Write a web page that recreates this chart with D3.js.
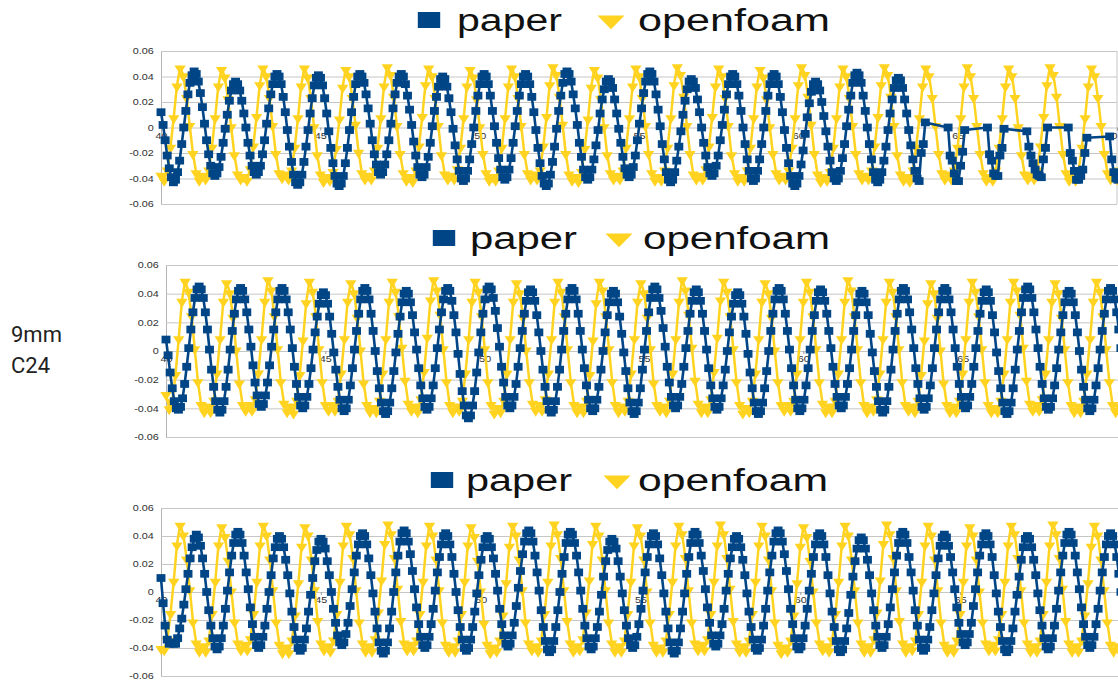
<!DOCTYPE html>
<html>
<head>
<meta charset="utf-8">
<script src="https://cdn.jsdelivr.net/npm/d3@7"></script>
<style>
  body { margin: 0; background: #ffffff; }
  svg { display: block; }
</style>
</head>
<body>
<svg id="chart" width="1118" height="681"></svg>
<script>
// Free-surface elevation at gauge C24, 9 mm case: measured series ("paper")
// against the OpenFOAM run, three records. Values are in millimetres.
// paper samples: every 0.065 s from t = 40 s (null = no point in the record).
// openfoam samples: every 0.1 s from t = 40 s.
const timeStart = 40;
const paperStep = 0.065;
const foamStep = 0.1;
const seriesNames = ["paper", "openfoam"];
const xTicks = [40, 45, 50, 55, 60, 65, 70];
const yTicks = [-0.06, -0.04, -0.02, 0, 0.02, 0.04, 0.06];
const sideLabel = ["9mm", "C24"];

const paper1 = [
  12, 2, -10, -22, -32, -39, -43,
  -41, -35, -26, -13, 0, 13, 26, 35, 41, 44,
  42, 36, 27, 16, 3, -10, -21, -30, -36, -38,
  -36, -31, -23, -12, -1, 10, 21, 29, 34, 36,
  34, 29, 21, 11, 0, -12, -22, -30, -35, -37,
  -35, -30, -21, -10, 3, 15, 26, 34, 40, 42,
  40, 34, 24, 12, -2, -15, -27, -37, -43, -45,
  -43, -37, -27, -15, -2, 11, 23, 33, 39, 41,
  39, 33, 23, 11, -3, -16, -28, -38, -44, -46,
  -44, -38, -28, -16, -2, 12, 24, 34, 40, 42,
  40, 35, 26, 15, 3, -10, -21, -29, -35, -37,
  -35, -29, -21, -10, 3, 15, 26, 35, 40, 42,
  40, 34, 25, 14, 2, -11, -22, -31, -37, -39,
  -37, -31, -23, -12, 1, 13, 24, 32, 38, 40,
  38, 32, 23, 12, -1, -14, -25, -34, -40, -42,
  -40, -34, -25, -13, 0, 13, 25, 34, 40, 42,
  40, 34, 25, 13, 1, -12, -24, -33, -39, -41,
  -39, -33, -24, -12, 1, 13, 25, 34, 40, 42,
  40, 34, 24, 12, -2, -16, -28, -38, -44, -46,
  -44, -37, -27, -15, -1, 13, 25, 35, 42, 44,
  42, 36, 26, 15, 2, -12, -23, -33, -39, -41,
  -39, -33, -25, -14, -2, 11, 22, 30, 36, 38,
  36, 31, 22, 11, -1, -12, -23, -32, -37, -39,
  -37, -31, -22, -10, 3, 15, 27, 36, 42, 44,
  42, 36, 26, 14, 1, -13, -25, -35, -41, -43,
  -41, -35, -26, -15, -3, 10, 21, 30, 36, 38,
  36, 31, 22, 12, 0, -12, -22, -31, -36, -38,
  -36, -30, -22, -10, 2, 14, 26, 34, 40, 42,
  40, 34, 25, 13, 0, -13, -25, -34, -40, -42,
  -40, -34, -25, -13, 0, 13, 25, 34, 40, 42,
  40, 34, 24, 12, -2, -16, -28, -38, -44, -46,
  -44, -38, -29, -18, -5, 8, 19, 28, 34, 36,
  34, 29, 20, 9, -3, -15, -26, -35, -40, -42,
  -40, -34, -24, -13, 1, 14, 25, 35, 41, 43,
  41, 35, 25, 13, 0, -13, -25, -35, -41, -43,
  -41, -35, -26, -15, -2, 11, 22, 31, 37, 39,
  37, 31, 22, 11, -2, -14, -25, -34, -40, -42,
  -20, -13, 4,
  null, null, null, null, null, null, null, null, null, null,
  0, -22, -26, -36, -42, -42, -30, -19, -2,
  null, null, null, null, null, null, null, null, null, null,
  0, -21, -26, -36, -38, -38, -22, -16, -1,
  null, null, null, null, null, null, null, null, null, null,
  -3, -15, -22, -28, -33, -37, -38, -39, -25, -16, 0,
  null, null, null, null, null, null, null, null, null,
  0, -20, -26, -34, -41, -41, -38, -33, -20, -8,
  null, null, null, null, null, null, null, null, null, null,
  -7, -25, -35, -40, -41
];

const foam1 = [
  -37, -41, -33, -15, 8, 33,
  47, 41, 24, 2, -20, -35, -41, -37, -40, -33, -15, 8, 33,
  46, 40, 23, 1, -21, -36, -40, -38, -41, -32, -14, 9, 34,
  47, 41, 24, 2, -20, -35, -39, -36, -40, -33, -15, 8, 33,
  47, 40, 24, 1, -21, -36, -42, -38, -41, -34, -16, 7, 32,
  46, 41, 24, 3, -19, -35, -40, -37, -40, -33, -15, 8, 33,
  48, 42, 25, 2, -20, -35, -41, -38, -42, -33, -14, 9, 34,
  47, 41, 24, 2, -21, -36, -40, -37, -40, -32, -15, 8, 33,
  46, 40, 23, 1, -20, -35, -41, -38, -41, -33, -15, 8, 33,
  47, 41, 24, 2, -20, -35, -40, -36, -40, -33, -14, 9, 34,
  48, 42, 25, 3, -20, -36, -41, -38, -42, -34, -16, 7, 32,
  46, 40, 23, 1, -21, -35, -40, -37, -40, -33, -15, 8, 33,
  47, 41, 24, 2, -20, -35, -41, -38, -41, -33, -15, 8, 34,
  48, 42, 25, 2, -20, -36, -40, -37, -40, -32, -14, 9, 33,
  47, 41, 24, 2, -21, -35, -41, -38, -41, -33, -15, 8, 33,
  46, 40, 23, 1, -20, -35, -40, -37, -40, -33, -15, 8, 34,
  48, 42, 25, 3, -20, -36, -42, -38, -41, -34, -15, 8, 33,
  47, 41, 24, 2, -20, -35, -40, -37, -40, -33, -14, 9, 34,
  48, 42, 25, 2, -21, -36, -41, -38, -42, -33, -15, 8, 33,
  47, 41, 24, 2, -20, -35, -40, -36, -40, -33, -15, 8, 33,
  48, 41, 24, 2, -20, -35, -41, -38, -41, -33, -15, 8, 33,
  47, 41, 24, 1, -21, -36, -40, -37, -40, -33, -14, 9, 34,
  48, 42, 25, 2, -20, -35, -41, -38, -41, -33, -15, 8, 33,
  47, 41, 24, 2, -20, -35, -40, -37, -40, -33, -15, 8, 33
];

const paper2 = [
  8, -3, -15, -26, -35, -40, -41,
  -39, -33, -23, -11, 2, 15, 27, 37, 43, 45,
  43, 37, 27, 15, 1, -13, -25, -35, -41, -43,
  -41, -35, -25, -13, 1, 14, 26, 36, 42, 44,
  42, 36, 27, 15, 3, -10, -22, -31, -37, -39,
  -37, -31, -22, -10, 3, 15, 27, 36, 42, 44,
  42, 36, 27, 15, 2, -11, -23, -32, -38, -40,
  -38, -32, -23, -12, 1, 13, 24, 33, 39, 41,
  39, 33, 24, 12, -1, -13, -25, -34, -40, -42,
  -40, -34, -24, -12, 1, 14, 26, 36, 42, 44,
  42, 36, 26, 14, 0, -14, -26, -36, -42, -44,
  -42, -36, -26, -14, -1, 12, 24, 34, 40, 42,
  40, 34, 25, 13, 1, -12, -24, -33, -39, -41,
  -39, -33, -24, -12, 2, 15, 27, 36, 42, 44,
  42, 35, 25, 13, -2, -16, -28, -38, -45, -47,
  -45, -38, -28, -15, -1, 13, 26, 36, 43, 45,
  43, 37, 28, 16, 3, -11, -22, -32, -38, -40,
  -38, -32, -23, -11, 2, 14, 26, 35, 41, 43,
  41, 35, 25, 13, 0, -13, -25, -35, -41, -43,
  -41, -35, -25, -13, 1, 14, 26, 36, 42, 44,
  42, 36, 26, 14, 1, -12, -24, -34, -40, -42,
  -40, -34, -25, -13, 0, 13, 25, 34, 40, 42,
  40, 34, 24, 12, -1, -14, -26, -36, -42, -44,
  -42, -36, -26, -13, 1, 14, 27, 37, 43, 45,
  43, 37, 28, 16, 3, -11, -22, -32, -38, -40,
  -38, -32, -23, -11, 2, 14, 26, 35, 41, 43,
  41, 35, 26, 14, 1, -12, -24, -33, -39, -41,
  -39, -33, -24, -13, 0, 13, 24, 33, 39, 41,
  39, 33, 24, 12, -2, -15, -26, -36, -42, -44,
  -42, -36, -26, -14, 0, 14, 26, 36, 42, 44,
  42, 36, 26, 14, 1, -12, -24, -34, -40, -42,
  -40, -34, -24, -12, 1, 14, 25, 35, 41, 43,
  41, 35, 26, 14, 2, -11, -23, -32, -38, -40,
  -38, -32, -23, -12, 1, 14, 25, 34, 40, 42,
  40, 34, 25, 12, -1, -14, -25, -35, -41, -43,
  -41, -35, -25, -13, 1, 14, 26, 36, 42, 44,
  42, 36, 27, 15, 2, -12, -23, -33, -39, -41,
  -39, -33, -24, -12, 2, 15, 27, 36, 42, 44,
  42, 36, 27, 15, 2, -11, -23, -32, -38, -40,
  -38, -32, -23, -11, 2, 14, 26, 35, 41, 43,
  41, 35, 25, 13, -1, -14, -26, -36, -42, -44,
  -42, -36, -26, -13, 1, 14, 27, 37, 43, 45,
  43, 37, 27, 15, 2, -11, -23, -33, -39, -41,
  -39, -33, -24, -12, 1, 13, 25, 34, 40, 42,
  40, 34, 25, 13, 0, -13, -25, -34, -40, -42,
  -40, -34, -24, -12, 1, 14, 26, 36, 42, 44,
  42, 36, 27, 15, 2, -11, -23, -32, -38
];

const foam2 = [
  -30, -40, -35, -16, 9, 35,
  49, 42, 25, 2, -21, -37, -42, -38, -42, -34, -15, 9, 35,
  48, 41, 24, 1, -22, -37, -41, -37, -41, -33, -15, 9, 35,
  50, 43, 25, 2, -21, -36, -42, -38, -43, -34, -16, 8, 34,
  49, 42, 25, 2, -21, -37, -41, -37, -41, -34, -15, 9, 35,
  48, 41, 24, 1, -22, -37, -42, -39, -42, -34, -15, 9, 35,
  49, 42, 25, 3, -20, -36, -41, -38, -42, -33, -14, 10, 36,
  50, 43, 26, 2, -21, -37, -42, -38, -41, -34, -15, 9, 35,
  49, 42, 25, 2, -21, -37, -43, -39, -42, -34, -15, 9, 35,
  48, 41, 24, 1, -21, -36, -41, -37, -41, -33, -15, 9, 35,
  49, 42, 25, 2, -21, -37, -42, -38, -42, -34, -16, 8, 34,
  49, 43, 25, 2, -21, -37, -42, -38, -41, -34, -15, 9, 35,
  48, 41, 24, 2, -22, -37, -41, -38, -42, -34, -15, 9, 35,
  50, 43, 26, 3, -20, -36, -42, -38, -42, -33, -14, 10, 36,
  49, 42, 25, 2, -21, -37, -43, -39, -42, -34, -15, 9, 35,
  48, 41, 24, 1, -21, -37, -41, -37, -41, -34, -15, 9, 35,
  49, 42, 25, 2, -21, -36, -42, -38, -42, -34, -15, 9, 35,
  50, 43, 25, 2, -21, -37, -42, -38, -41, -33, -15, 9, 35,
  49, 42, 25, 2, -21, -37, -41, -38, -42, -34, -16, 8, 34,
  48, 41, 24, 1, -22, -37, -42, -38, -42, -34, -15, 9, 35,
  49, 42, 25, 2, -21, -37, -42, -39, -42, -34, -15, 9, 35,
  49, 43, 26, 3, -20, -36, -41, -37, -41, -33, -15, 9, 35,
  48, 41, 24, 2, -21, -37, -42, -38, -42, -34, -15, 9, 35,
  49, 42, 25, 2, -21, -37, -42, -38, -42, -34, -15, 9, 35
];

const paper3 = [
  10, -8, -24, -34, -37, -36, -37, -37,
  -33, -26, -19, -9, 2, 13, 24, 32, 38, 41,
  39, 33, 24, 13, 0, -13, -24, -33, -39, -41,
  -39, -33, -24, -12, 1, 14, 26, 35, 41, 43,
  41, 35, 26, 14, 2, -11, -23, -32, -38, -40,
  -38, -32, -24, -12, 0, 12, 24, 32, 38, 40,
  38, 32, 23, 12, -1, -14, -25, -34, -40, -42,
  -40, -34, -26, -14, -2, 10, 22, 30, 36, 38,
  36, 31, 22, 12, 0, -12, -22, -31, -36, -38,
  -36, -30, -22, -10, 2, 14, 26, 34, 40, 42,
  40, 34, 24, 12, -1, -14, -26, -36, -42, -44,
  -42, -36, -26, -14, 0, 14, 26, 36, 42, 44,
  42, 36, 27, 15, 2, -11, -23, -32, -38, -40,
  -38, -32, -23, -12, 1, 14, 25, 34, 40, 42,
  40, 34, 25, 13, 0, -13, -25, -34, -40, -42,
  -40, -34, -25, -14, -1, 12, 23, 32, 38, 40,
  38, 32, 24, 13, 1, -12, -23, -31, -37, -39,
  -37, -31, -22, -10, 3, 15, 27, 36, 42, 44,
  42, 36, 26, 14, 1, -13, -25, -35, -41, -43,
  -41, -35, -25, -13, 0, 13, 25, 35, 41, 43,
  41, 35, 26, 14, 1, -12, -24, -33, -39, -41,
  -39, -33, -25, -14, -2, 11, 22, 30, 36, 38,
  36, 31, 22, 11, -1, -13, -24, -33, -38, -40,
  -38, -32, -23, -12, 1, 14, 25, 34, 40, 42,
  40, 34, 24, 12, -1, -14, -26, -36, -42, -44,
  -42, -36, -26, -14, -1, 13, 25, 35, 41, 43,
  41, 35, 26, 15, 2, -11, -22, -31, -37, -39,
  -37, -31, -23, -12, 1, 13, 24, 32, 38, 40,
  38, 32, 23, 12, -1, -14, -25, -34, -40, -42,
  -40, -34, -24, -12, 1, 14, 26, 36, 42, 44,
  42, 36, 27, 15, 2, -12, -23, -33, -39, -41,
  -39, -33, -24, -12, 1, 13, 25, 34, 40, 42,
  40, 34, 25, 12, -1, -14, -25, -35, -41, -43,
  -41, -35, -26, -15, -2, 11, 22, 31, 37, 39,
  37, 31, 23, 12, -1, -13, -24, -32, -38, -40,
  -38, -32, -23, -11, 2, 14, 26, 35, 41, 43,
  41, 35, 25, 14, 1, -13, -24, -34, -40, -42,
  -40, -34, -25, -13, -1, 12, 24, 33, 39, 41,
  39, 33, 25, 14, 2, -11, -22, -30, -36, -38,
  -36, -30, -22, -10, 2, 14, 26, 34, 40, 42,
  40, 34, 25, 12, -1, -14, -25, -35, -41, -43,
  -41, -35, -26, -14, -2, 11, 23, 32, 38, 40,
  38, 32, 23, 12, -1, -13, -24, -33, -39, -41,
  -39, -33, -24, -12, 1, 14, 26, 35, 41, 43,
  41, 35, 26, 14, 2, -11, -23, -32, -38, -40,
  -38, -32, -23, -12, 1, 14, 25, 34, 40, 42,
  40, 34, 25, 13, 0, -13, -25, -34
];

const foam3 = [
  -40, -41, -34, -15, 8, 34,
  48, 41, 24, 2, -21, -36, -42, -38, -42, -34, -15, 8, 34,
  47, 40, 23, 1, -21, -36, -41, -37, -41, -33, -15, 8, 34,
  48, 41, 24, 2, -21, -37, -43, -39, -43, -34, -16, 7, 33,
  47, 41, 24, 2, -20, -36, -41, -38, -42, -34, -15, 8, 34,
  48, 42, 25, 2, -21, -36, -42, -38, -42, -33, -14, 9, 35,
  49, 42, 25, 3, -20, -36, -41, -37, -41, -34, -15, 8, 34,
  48, 41, 24, 2, -21, -37, -42, -38, -42, -34, -15, 8, 34,
  47, 40, 23, 1, -22, -37, -43, -39, -42, -34, -16, 7, 33,
  48, 41, 24, 2, -21, -36, -41, -38, -42, -34, -15, 8, 34,
  49, 42, 25, 2, -20, -36, -42, -38, -41, -33, -14, 9, 35,
  48, 41, 24, 2, -21, -36, -42, -38, -42, -34, -15, 8, 34,
  47, 41, 24, 1, -21, -37, -42, -39, -42, -34, -15, 8, 34,
  48, 42, 25, 2, -21, -36, -41, -37, -41, -33, -15, 8, 34,
  49, 42, 25, 3, -20, -36, -42, -38, -42, -34, -15, 8, 34,
  48, 41, 24, 2, -21, -37, -43, -39, -42, -34, -16, 7, 33,
  47, 40, 23, 1, -21, -36, -41, -38, -42, -34, -15, 8, 34,
  48, 41, 24, 2, -21, -36, -42, -38, -42, -33, -14, 9, 35,
  49, 42, 25, 2, -20, -36, -42, -38, -41, -34, -15, 8, 34,
  48, 41, 24, 2, -21, -37, -42, -39, -42, -34, -15, 8, 34,
  47, 41, 24, 1, -21, -36, -41, -37, -41, -33, -15, 8, 34,
  48, 42, 25, 2, -21, -36, -42, -38, -42, -34, -15, 8, 34,
  49, 42, 25, 3, -20, -36, -42, -38, -42, -34, -16, 7, 33,
  48, 41, 24, 2, -21, -37, -42, -38, -42, -34, -15, 8, 34
];

// ---- layout of the three stacked charts ----
const W = 1118;
const panels = [
  { paper: paper1, foam: foam1, left: 161, right: 1117, top: 51, bottom: 204, border: true,
    legend: { sq: 429, paper: 457, paperW: 105, tri: 611, foam: 638, foamW: 192, y: 20 } },
  { paper: paper2, foam: foam2, left: 166, right: 1122, top: 265, bottom: 437, border: false,
    legend: { sq: 444, paper: 470, paperW: 107, tri: 619, foam: 643, foamW: 187, y: 238 } },
  { paper: paper3, foam: foam3, left: 161, right: 1120, top: 508, bottom: 676, border: false,
    legend: { sq: 442, paper: 466, paperW: 106, tri: 617, foam: 638, foamW: 190, y: 480 } }
];

const BLUE = "#004586";
const YELLOW = "#ffd320";
const GRID = "#c6c6c6";
const FONT = "'Liberation Sans', Arial, sans-serif";

const svg = d3.select("#chart");
svg.append("rect").attr("width", W).attr("height", 681).attr("fill", "#ffffff");

function toPoints(values, step) {
  return values
    .map((v, i) => ({ t: timeStart + i * step, v: v == null ? null : v / 1000 }))
    .filter(d => d.v !== null);
}

const tickText = d => (d === 0 ? "0" : d.toFixed(2));
const squareSym = d3.symbol(d3.symbolSquare, 60);
const triangleSym = d3.symbol(d3.symbolTriangle, 46);

panels.forEach((p, k) => {
  const x = d3.scaleLinear().domain([40, 70]).range([p.left, p.right]);
  const y = d3.scaleLinear().domain([-0.06, 0.06]).range([p.bottom, p.top]);
  const gridRight = Math.min(p.right, W);
  const g = svg.append("g");

  // horizontal grid + left axis
  const yAxis = d3.axisLeft(y)
    .tickValues(yTicks)
    .tickFormat(tickText)
    .tickSizeInner(-(gridRight - p.left))
    .tickSizeOuter(0)
    .tickPadding(6);
  const ya = g.append("g").attr("transform", `translate(${p.left},0)`).call(yAxis);
  ya.select(".domain").attr("stroke", "#b3b3b3");
  ya.selectAll(".tick line").attr("stroke", GRID).attr("stroke-width", 1);
  ya.selectAll(".tick text")
    .attr("font-family", FONT).attr("font-size", 9).attr("fill", "#333333")
    .attr("transform", "scale(1.2,1)");

  if (p.border) {
    g.append("line")
      .attr("x1", gridRight).attr("x2", gridRight)
      .attr("y1", p.top).attr("y2", p.bottom)
      .attr("stroke", GRID);
  }

  // time axis sits on the zero line; only ticks that fall inside the page
  const shownX = xTicks.filter(v => x(v) <= W);
  const xAxis = d3.axisBottom(x).tickValues(shownX).tickSize(3).tickPadding(2);
  const xa = g.append("g").attr("transform", `translate(0,${y(0)})`).call(xAxis);
  xa.select(".domain").remove();
  xa.selectAll(".tick line").attr("stroke", "#999999");
  xa.selectAll(".tick text")
    .attr("font-family", FONT).attr("font-size", 9).attr("fill", "#333333")
    .attr("transform", "scale(1.2,1)")
    .filter(v => x(v) + 8 > W)
    .attr("text-anchor", "end")
    .attr("x", (W - 1 - x(70)) / 1.2);

  const line = d3.line().x(d => x(d.t)).y(d => y(d.v));
  const foamPts = toPoints(p.foam, foamStep);
  const paperPts = toPoints(p.paper, paperStep);

  // openfoam
  g.append("path").datum(foamPts)
    .attr("d", line).attr("fill", "none")
    .attr("stroke", YELLOW).attr("stroke-width", 2.5).attr("stroke-linejoin", "round");
  g.append("g").selectAll("path").data(foamPts).join("path")
    .attr("d", triangleSym)
    .attr("transform", d => `translate(${x(d.t)},${y(d.v) + 1}) rotate(180) scale(1.1,1)`)
    .attr("fill", YELLOW);

  // paper
  g.append("path").datum(paperPts)
    .attr("d", line).attr("fill", "none")
    .attr("stroke", BLUE).attr("stroke-width", 2.6).attr("stroke-linejoin", "round");
  g.append("g").selectAll("path").data(paperPts).join("path")
    .attr("d", squareSym)
    .attr("transform", d => `translate(${x(d.t)},${y(d.v)}) scale(1.15,1)`)
    .attr("fill", BLUE);

  // legend
  const L = p.legend;
  g.append("path")
    .attr("d", d3.symbol(d3.symbolSquare, 256)())
    .attr("transform", `translate(${L.sq},${L.y}) scale(1.4,1)`)
    .attr("fill", BLUE);
  g.append("text")
    .attr("x", L.paper).attr("y", L.y + 11)
    .attr("font-family", FONT).attr("font-size", 31).attr("fill", "#111111")
    .attr("textLength", L.paperW).attr("lengthAdjust", "spacingAndGlyphs")
    .text(seriesNames[0]);
  g.append("path")
    .attr("d", d3.symbol(d3.symbolTriangle, 110)())
    .attr("transform", `translate(${L.tri},${L.y}) rotate(180) scale(1.7,1)`)
    .attr("fill", YELLOW);
  g.append("text")
    .attr("x", L.foam).attr("y", L.y + 11)
    .attr("font-family", FONT).attr("font-size", 31).attr("fill", "#111111")
    .attr("textLength", L.foamW).attr("lengthAdjust", "spacingAndGlyphs")
    .text(seriesNames[1]);
});

// case label on the left
svg.append("g").selectAll("text").data(sideLabel).join("text")
  .attr("x", 11).attr("y", (d, i) => 342 + i * 31)
  .attr("font-family", "Roboto, 'Noto Sans', sans-serif")
  .attr("font-size", 22).attr("fill", "#222222")
  .text(d => d);
</script>
</body>
</html>
